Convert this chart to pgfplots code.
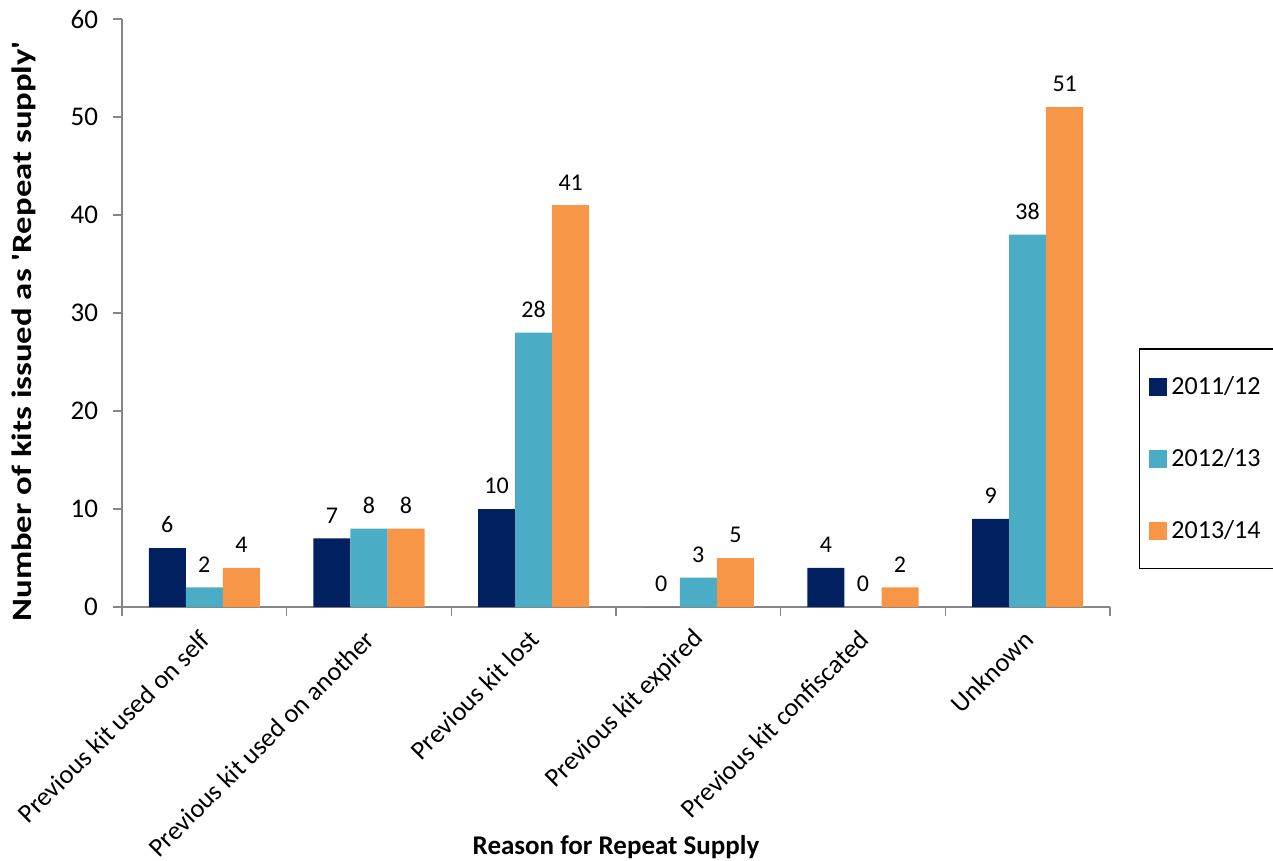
\documentclass[border=0pt]{standalone}
\usepackage{fontspec}
\setmainfont{Carlito}
\usepackage{pgfplots}
\pgfplotsset{compat=1.18}
\definecolor{c1}{HTML}{002060}
\definecolor{c2}{HTML}{4BACC6}
\definecolor{c3}{HTML}{F79646}
\definecolor{axc}{HTML}{868686}
\begin{document}
\begin{tikzpicture}
\begin{axis}[
  scale only axis, width=494pt, height=294pt,
  xmin=-0.5, xmax=5.5, ymin=0, ymax=60,
  /pgf/number format/assume math mode=true,
  axis lines*=left,
  axis line style={axc, line width=0.8pt},
  every tick/.style={axc, line width=0.8pt},
  tick align=outside,
  major tick length=4.5pt,
  ytick={0,10,...,60},
  yticklabel style={font=\fontsize{13.5}{15}\selectfont, xshift=-4pt},
  xtick={-0.5,0.5,...,5.5},
  xticklabels={},
  extra x ticks={0,1,2,3,4,5},
  extra x tick labels={Previous kit used on self, Previous kit used on another, Previous kit lost, Previous kit expired, Previous kit confiscated, Unknown},
  extra x tick style={major tick length=0pt, xticklabel style={font=\fontsize{13.2}{15}\selectfont, xshift=2pt, yshift=-12.5pt, rotate=45, anchor=east, inner sep=2pt}},
  ybar, bar width=0.225,
  nodes near coords,
  every node near coord/.append style={font=\fontsize{12}{14}\selectfont, black, yshift=4pt},
  xlabel={\bfseries Reason for Repeat Supply},
  xlabel style={font=\fontsize{13.5}{15}\selectfont, at={(axis description cs:0.5,0)}, anchor=center, yshift=-120pt},
  ylabel={\scalebox{1.24}[1]{\bfseries Number of kits issued as \textquotesingle Repeat supply\textquotesingle}},
  ylabel style={font=\fontsize{14}{16}\selectfont, at={(axis description cs:-0.099,0.469)}, anchor=center},
  legend style={at={(axis description cs:1.029,0.252)}, anchor=west, draw=black, line width=0.8pt,
    font=\fontsize{13}{15}\selectfont, row sep=21.5pt, inner xsep=5pt, inner ysep=11.5pt},
  legend cell align=left,
  legend image code/.code={\fill[#1] (0pt,-4.5pt) rectangle (9pt,4.5pt);},
]
\addplot[fill=c1, draw=none, bar shift=-0.225] coordinates {(0,6) (1,7) (2,10) (3,0) (4,4) (5,9)};
\addplot[fill=c2, draw=none, bar shift=0] coordinates {(0,2) (1,8) (2,28) (3,3) (4,0) (5,38)};
\addplot[fill=c3, draw=none, bar shift=0.225] coordinates {(0,4) (1,8) (2,41) (3,5) (4,2) (5,51)};
\legend{2011/12, 2012/13, 2013/14}
\end{axis}
\pgfresetboundingbox
\path (-61pt,-127pt) rectangle (575.5pt,303.5pt);
\end{tikzpicture}
\end{document}
